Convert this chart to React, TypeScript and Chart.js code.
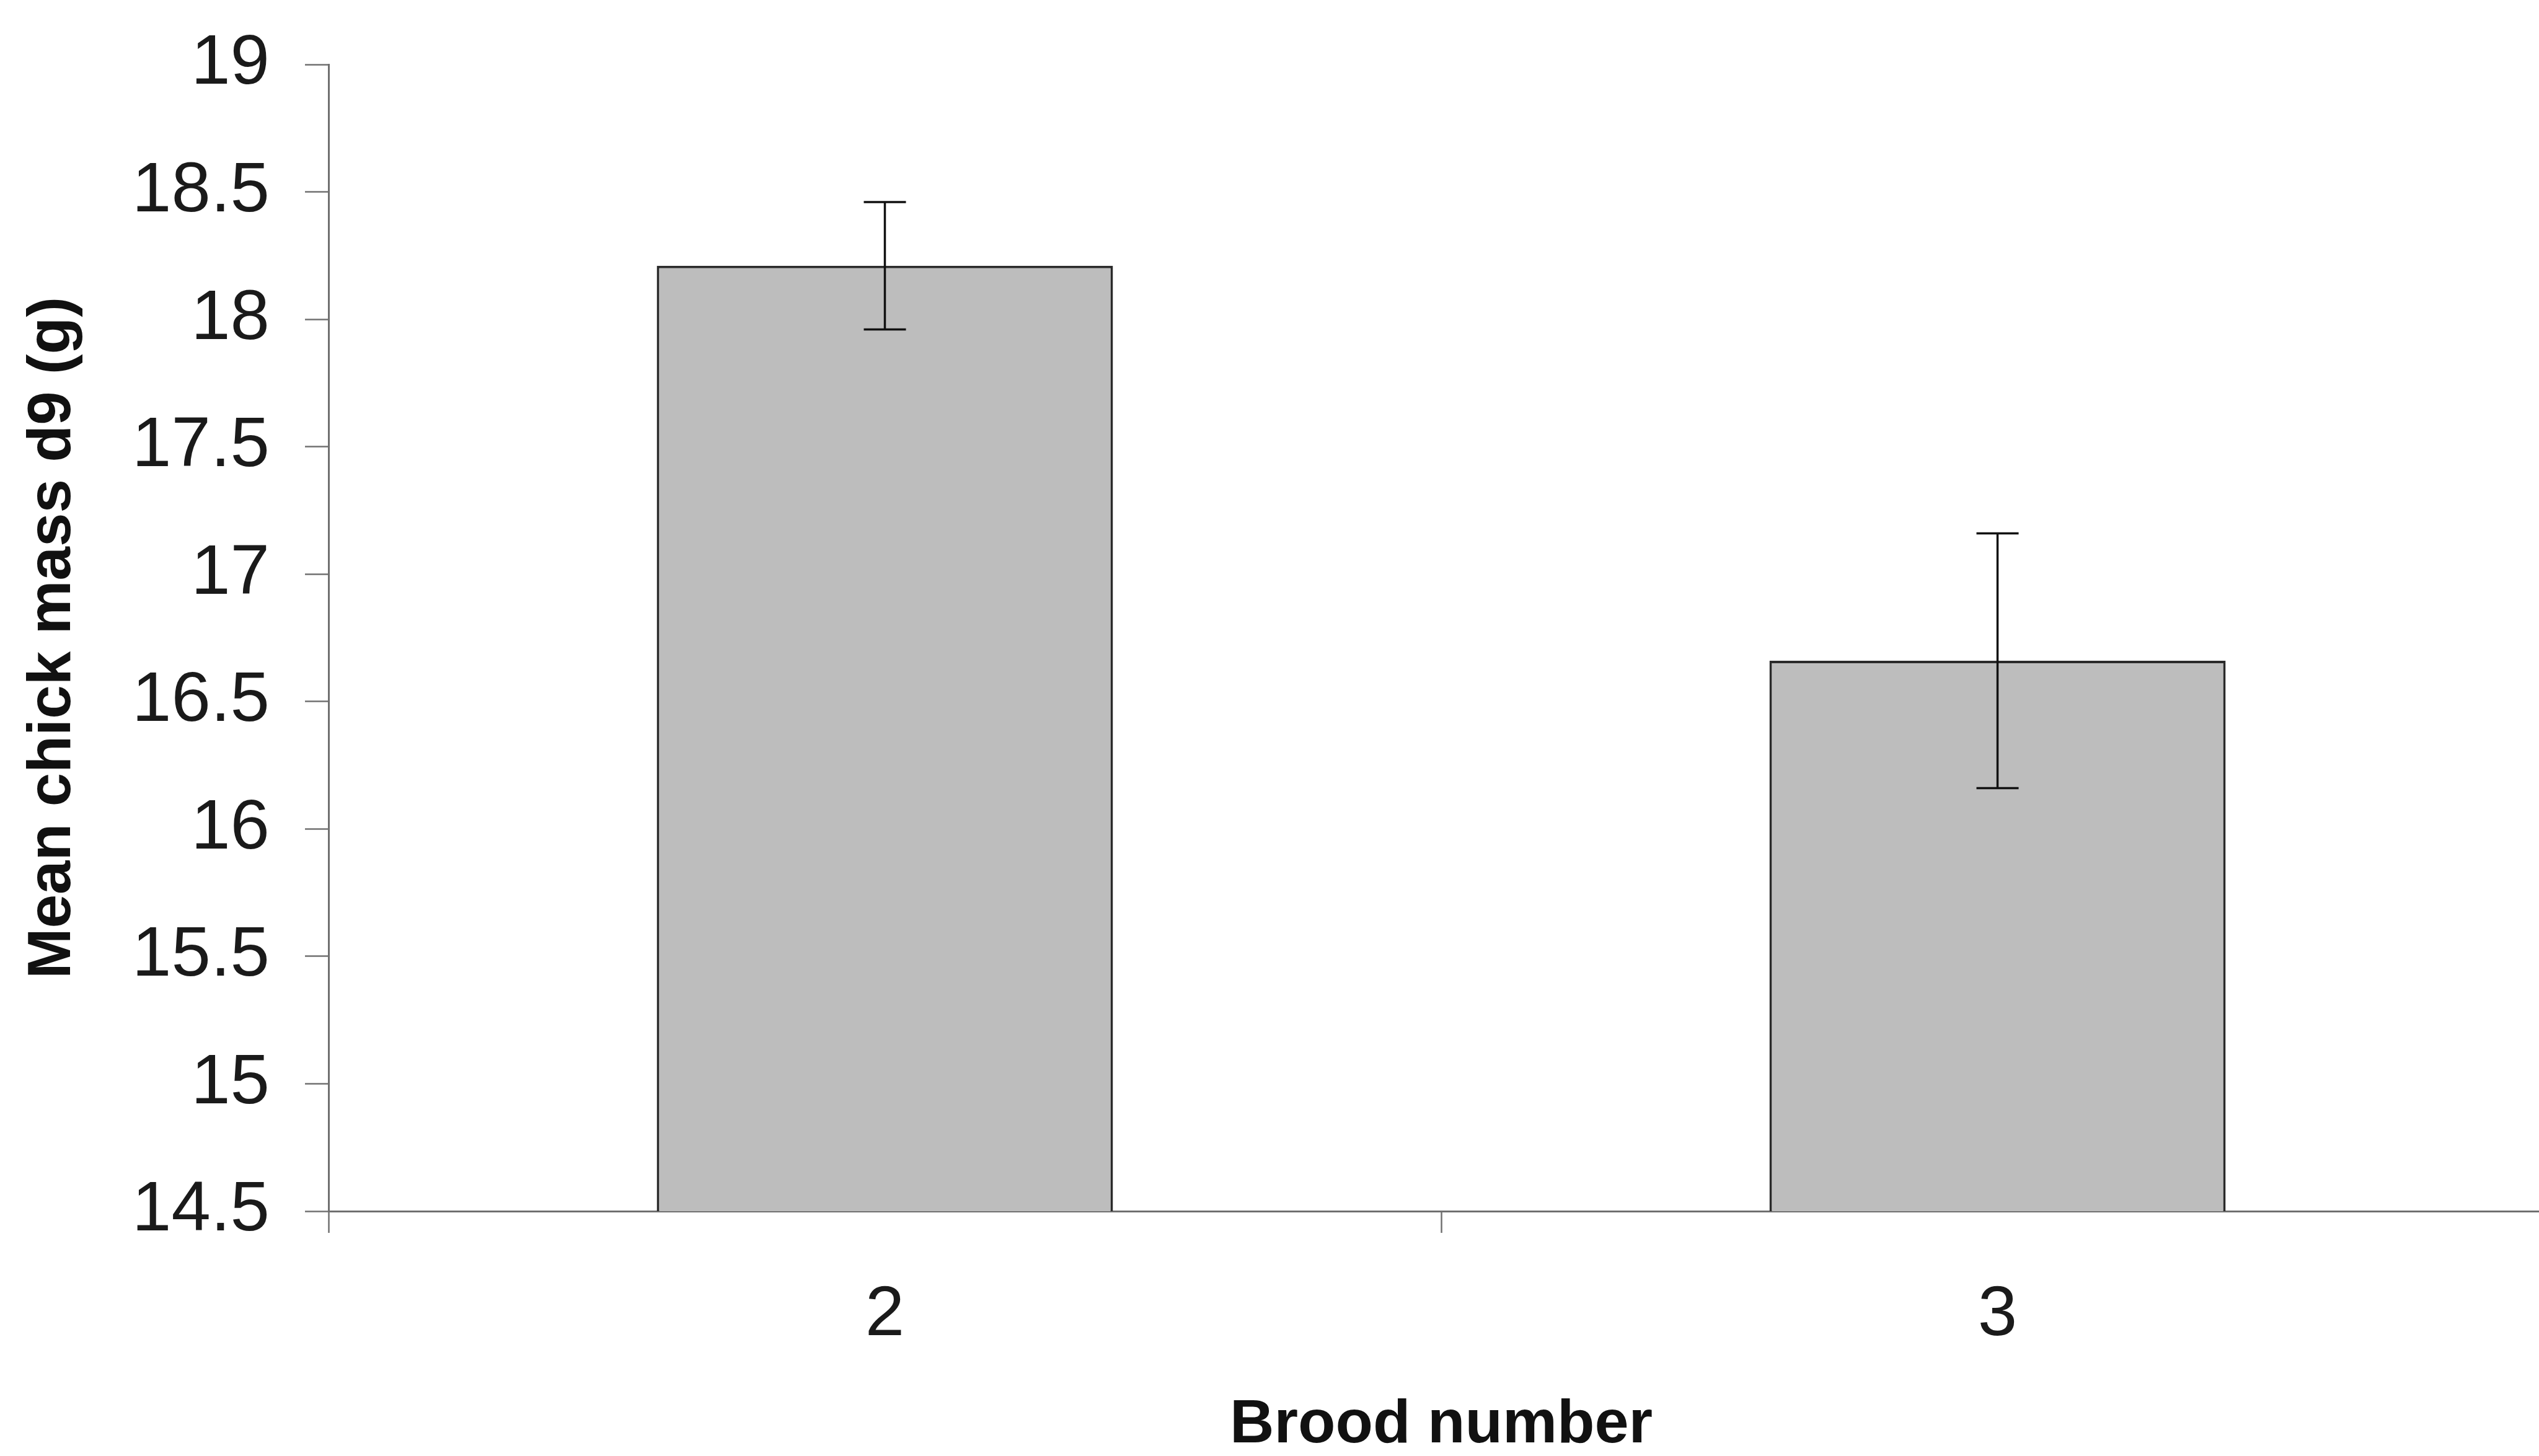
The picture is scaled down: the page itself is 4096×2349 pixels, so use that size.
import React, { useEffect, useRef } from "react";
import { Chart, registerables } from "chart.js";

Chart.register(...registerables);

const broodLabels = ["2", "3"];
const meanMass = [18.21, 16.66];
const errMass = [0.25, 0.5];
const yMin = 14.5;
const yMax = 19;
const yStep = 0.5;
const xTitle = "Brood number";
const yTitle = "Mean chick mass d9 (g)";

const FONT = "'Liberation Sans', Arial, sans-serif";

const errorBarPlugin = {
  id: "errorBars",
  afterDatasetsDraw(chart: any) {
    const meta = chart.getDatasetMeta(0);
    const yScale = chart.scales.y;
    const ctx = chart.ctx;
    ctx.save();
    ctx.strokeStyle = "#111111";
    ctx.lineWidth = 3.5;
    const cap = 34;
    meta.data.forEach((bar: any, i: number) => {
      const x = bar.x;
      const yHi = yScale.getPixelForValue(meanMass[i] + errMass[i]);
      const yLo = yScale.getPixelForValue(meanMass[i] - errMass[i]);
      ctx.beginPath();
      ctx.moveTo(x, yHi);
      ctx.lineTo(x, yLo);
      ctx.moveTo(x - cap, yHi);
      ctx.lineTo(x + cap, yHi);
      ctx.moveTo(x - cap, yLo);
      ctx.lineTo(x + cap, yLo);
      ctx.stroke();
    });
    ctx.restore();
  },
};

export default function App() {
  const ref = useRef<HTMLCanvasElement | null>(null);
  useEffect(() => {
    if (!ref.current) return;
    const chart = new Chart(ref.current, {
      type: "bar",
      data: {
        labels: broodLabels,
        datasets: [
          {
            data: meanMass,
            backgroundColor: "#bdbdbd",
            borderColor: "#2a2a2a",
            borderWidth: 4,
            borderSkipped: false,
            barPercentage: 0.41,
            categoryPercentage: 1,
          },
        ],
      },
      options: {
        responsive: false,
        animation: false,
        devicePixelRatio: 1,
        layout: { padding: { top: 104, left: 0, right: 0, bottom: 0 } },
        plugins: {
          legend: { display: false },
          tooltip: { enabled: false },
          title: { display: false },
        },
        scales: {
          x: {
            type: "category",
            grid: {
              display: true,
              drawOnChartArea: false,
              drawTicks: true,
              tickLength: 35,
              offset: true,
              color: "#707070",
              tickWidth: 2.5,
            },
            border: { display: true, color: "#707070", width: 3 },
            ticks: {
              color: "#1a1a1a",
              font: { family: FONT, size: 114 },
              padding: 65,
            },
            title: {
              display: true,
              text: xTitle,
              color: "#111111",
              font: { family: FONT, size: 99, weight: "bold", lineHeight: 1 },
              padding: { top: 0, bottom: 0 },
            },
            afterFit(scale: any) {
              scale.height = 395;
              scale.paddingLeft = 0;
              scale.paddingRight = 0;
            },
          },
          y: {
            type: "linear",
            min: yMin,
            max: yMax,
            grid: {
              display: true,
              drawOnChartArea: false,
              drawTicks: true,
              tickLength: 38,
              color: "#707070",
              tickWidth: 2.5,
            },
            border: { display: true, color: "#707070", width: 3 },
            ticks: {
              stepSize: yStep,
              color: "#1a1a1a",
              font: { family: FONT, size: 114 },
              padding: 57,
              callback: (v: any) => String(Number(v)),
            },
            title: {
              display: true,
              text: yTitle,
              color: "#111111",
              font: { family: FONT, size: 98, weight: "bold", lineHeight: 1 },
              padding: { top: 37, bottom: 0 },
            },
            afterFit(scale: any) {
              scale.width = 530;
              scale.paddingTop = 0;
              scale.paddingBottom = 0;
            },
          },
        },
      },
      plugins: [errorBarPlugin],
    } as any);
    return () => chart.destroy();
  }, []);
  return (
    <div
      style={{
        position: "fixed",
        left: 0,
        top: 0,
        width: 4096,
        height: 2349,
        overflow: "hidden",
        background: "#ffffff",
      }}
    >
      <canvas ref={ref} width={4120} height={2349} style={{ width: 4120, height: 2349, display: "block" }} />
    </div>
  );
}
